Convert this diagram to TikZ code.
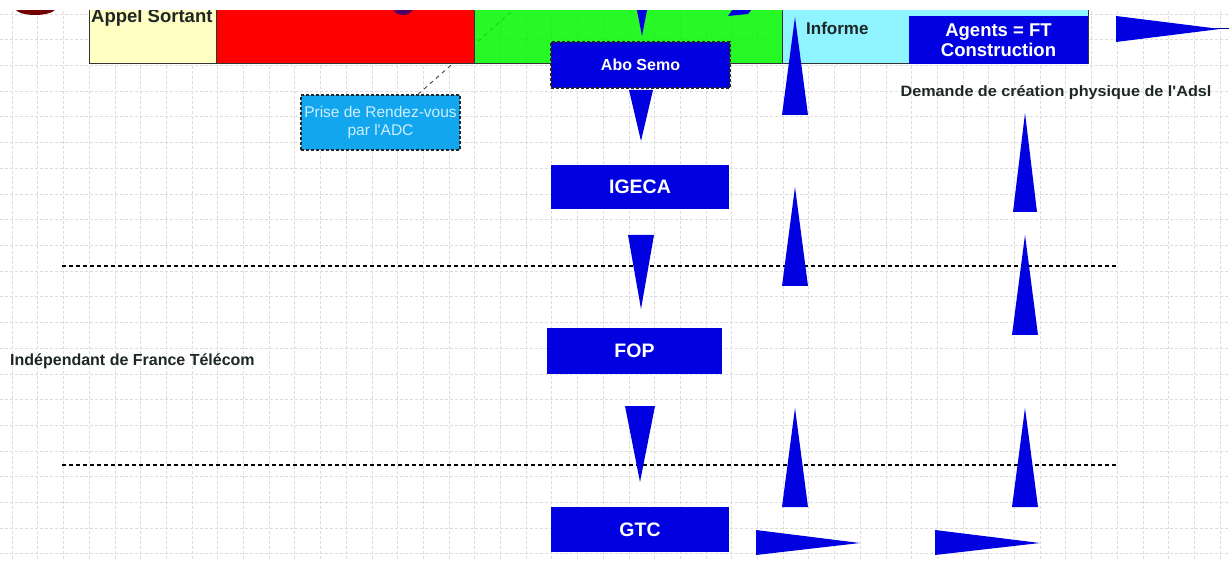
\documentclass[tikz,border=0pt]{standalone}
\usepackage{fontspec}
\setmainfont{Liberation Sans}
\definecolor{bandyellow}{HTML}{FFFFC4}
\definecolor{bandred}{HTML}{FF0000}
\definecolor{bandgreen}{HTML}{00F800}
\definecolor{bandcyan}{HTML}{8FF4FF}
\definecolor{fblue}{HTML}{0000E0}
\definecolor{skyblue}{HTML}{12A6EE}
\definecolor{skytext}{HTML}{CDEFFF}
\definecolor{gridgray}{HTML}{DCDCDC}
\definecolor{inkdark}{HTML}{1E2626}
\begin{document}
\begin{tikzpicture}[x=1pt,y=-1pt,
  gridline/.style={draw=gridgray,line width=0.6pt,dash pattern=on 3pt off 2pt},
  band/.style={draw=black!80,line width=1.3pt,anchor=south west,minimum height=80pt,inner sep=0pt},
  bluebox/.style={fill=fblue,text=white,inner sep=0pt,font=\bfseries\fontsize{19.5}{21}\selectfont},
  dashbox/.style={draw=black!85,line width=1.2pt,dash pattern=on 3pt off 2pt},
  tri/.style={fill=fblue},
  sep/.style={draw=black,line width=1.2pt,dash pattern=on 4pt off 3pt},
  link/.style={draw=black!75,line width=0.9pt,dash pattern=on 4pt off 4pt},
  darklabel/.style={text=inkdark,inner sep=0pt,font=\bfseries\fontsize{16}{18}\selectfont}]
\useasboundingbox (0,0) rectangle (1229,561);
\fill[white] (0,0) rectangle (1229,561);
\begin{scope}
\clip (0,11) rectangle (1229,561);
% background grid
\foreach \x in {12,37.7,...,1229} \draw[gridline] (\x,11) -- (\x,561);
\foreach \y in {14,39.7,...,561} \draw[gridline] (0,\y) -- (1229,\y);

% scrap of a shape above the top band
\fill[red!45!black] (15,9) .. controls (20,17) and (50,17) .. (56,9) -- cycle;

% appointment note and its link
\node[fill=skyblue,dashbox,minimum width=159pt,minimum height=55pt,text=skytext,
      align=center,font=\fontsize{15.5}{18}\selectfont] (prise) at (380.5,122.5)
      {Prise de Rendez-vous\\par l\textquotesingle ADC};
\coordinate (linkend) at (512,11);
\draw[link] ([xshift=37.5pt]prise.north) -- (linkend);

% top band
\node[band,fill=bandyellow,minimum width=127pt] (appel) at (89,64) {};
\node[band,fill=bandred,minimum width=258pt] (redband) at (216,64) {};
\node[band,fill=bandgreen,fill opacity=0.85,minimum width=308pt] (greenband) at (474,64) {};
\node[band,fill=bandcyan,minimum width=306pt] (infoband) at (782,64) {};
\node[darklabel,anchor=base west,font=\bfseries\fontsize{18.5}{20}\selectfont] (appeltxt) at (91,23) {Appel Sortant};
\node[darklabel,anchor=base west,font=\bfseries\fontsize{17}{18}\selectfont] (informe) at (806,35) {Informe};

% shapes cut by the top edge
\fill[fill=blue!55!red!70!black] (393,9) .. controls (396,17) and (410,17) .. (413,9) -- cycle;
\fill[tri] (728,16) -- (733,9) -- (752,9) -- (748,14) -- cycle;
\fill[tri] (635,0) -- (649,0) -- (642,36) -- cycle;

% process boxes
\node[bluebox,minimum width=179pt,minimum height=48pt,align=center,
      font=\bfseries\fontsize{18.5}{20}\selectfont] (agents) at (998.5,40) {Agents = FT\\Construction};
\node[bluebox,dashbox,minimum width=179pt,minimum height=46pt,
      font=\bfseries\fontsize{16}{18}\selectfont] (abo) at (640.5,65) {Abo Semo};
\node[bluebox,minimum width=178pt,minimum height=44pt] (igeca) at (640,187) {IGECA};
\node[bluebox,minimum width=175pt,minimum height=46pt] (fop) at (634.5,351) {FOP};
\node[bluebox,minimum width=178pt,minimum height=45pt] (gtc) at (640,529.5) {GTC};

% free labels
\node[darklabel,anchor=base,font=\bfseries\fontsize{15}{17}\selectfont] (demande) at (1056,97)
      {\scalebox{1.08}[1]{Demande de création physique de l\textquotesingle Adsl}};
\node[darklabel,anchor=base west,font=\bfseries\fontsize{16}{18}\selectfont] (indep) at (10,365)
      {Indépendant de France Télécom};

% separators
\draw[sep] (62,266) -- (1116,266);
\draw[sep] (62,465) -- (1116,465);

% downward flow wedges
\fill[tri] (629,90) -- (653,90) -- (641,141) -- cycle;
\fill[tri] (628,235) -- (654,235) -- (641,309) -- cycle;
\fill[tri] (625,406) -- (655,406) -- (640,482) -- cycle;
% upward wedges
\fill[tri] (782,115) -- (808,115) -- (795,17) -- cycle;
\fill[tri] (782,286) -- (808,286) -- (795,187) -- cycle;
\fill[tri] (782,507) -- (808,507) -- (795,408) -- cycle;
\fill[tri] (1013,212) -- (1037,212) -- (1025,113) -- cycle;
\fill[tri] (1012,335) -- (1038,335) -- (1025,235) -- cycle;
\fill[tri] (1012,507) -- (1038,507) -- (1025,408) -- cycle;
% rightward wedges
\fill[tri] (1116,16) -- (1116,42) -- (1220,29) -- cycle;
\draw[fblue!70!black,line width=1pt] (1215,29) -- (1229,29);
\fill[tri] (756,530) -- (756,555) -- (860,543) -- cycle;
\fill[tri] (935,530) -- (935,555) -- (1040,543) -- cycle;
\end{scope}
\end{tikzpicture}
\end{document}
